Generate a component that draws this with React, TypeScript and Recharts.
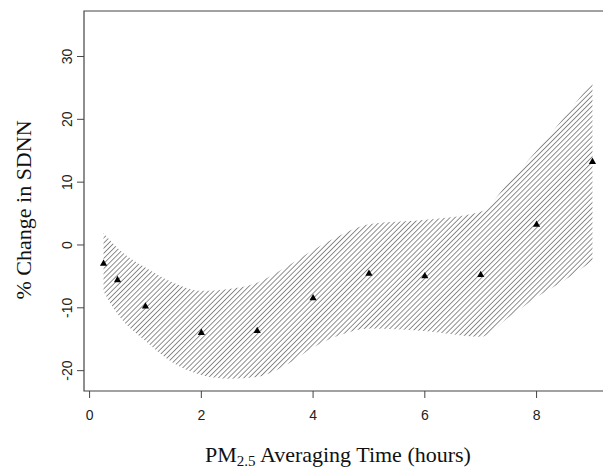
import React from "react"
import {
  Area,
  ComposedChart,
  ReferenceArea,
  Scatter,
  XAxis,
  YAxis,
} from "recharts"

// averaging times (hours) of the point estimates
const hours = [0.25, 0.5, 1, 2, 3, 4, 5, 6, 7, 8, 9]
const pctChange = [-2.9, -5.5, -9.7, -13.9, -13.6, -8.4, -4.5, -4.9, -4.7, 3.3, 13.3]

// confidence band
const bandHours = [0.25, 0.5, 1, 1.5, 2, 2.5, 3, 3.5, 4, 4.5, 5, 6, 7, 7.5, 8, 8.5, 9]
const bandUpper = [1.9, -0.5, -3.6, -6.0, -7.3, -7.0, -6.0, -3.6, -0.8, 1.6, 3.3, 4.0, 5.3, 10.0, 15.0, 20.4, 26.0]
const bandLower = [-7.4, -11.0, -15.3, -18.8, -20.7, -21.3, -21.0, -19.2, -16.3, -14.3, -13.3, -13.7, -14.6, -11.5, -8.3, -5.6, -2.5]

const xTicks = [0, 2, 4, 6, 8]
const yTicks = [-20, -10, 0, 10, 20, 30]

const X_DOMAIN: [number, number] = [-0.1, 9.35]
const Y_DOMAIN: [number, number] = [-23.24, 37.24]

const pointData = hours.map((h, i) => ({ h, v: pctChange[i] }))
const bandData = bandHours.map((h, i) => ({ h, range: [bandLower[i], bandUpper[i]] }))

const tickFont = { fontFamily: "'Liberation Sans', Arial, sans-serif", fontSize: 14, fill: "#222" }
const titleFont = "'Liberation Serif', 'Times New Roman', serif"

function Triangle(props: any) {
  const { cx, cy } = props
  if (cx == null || cy == null) return null
  return (
    <polygon
      points={`${cx - 3.6},${cy + 2.6} ${cx + 3.6},${cy + 2.6} ${cx},${cy - 3.8}`}
      fill="#000"
    />
  )
}

function RotatedTick(props: any) {
  const { x, y, payload } = props
  return (
    <text
      x={x}
      y={y}
      transform={`rotate(-90, ${x}, ${y})`}
      textAnchor="middle"
      {...tickFont}
    >
      {payload.value}
    </text>
  )
}

function XTitle() {
  return (
    <text x={338} y={462} textAnchor="middle" fontFamily={titleFont} fontSize={22} fill="#111">
      PM
      <tspan fontSize={15} dy={4}>2.5</tspan>
      <tspan dy={-4}> Averaging Time (hours)</tspan>
    </text>
  )
}

function YTitle() {
  return (
    <text
      x={31}
      y={210}
      transform="rotate(-90, 31, 210)"
      textAnchor="middle"
      fontFamily={titleFont}
      fontSize={22}
      fill="#111"
    >
      % Change in SDNN
    </text>
  )
}

export default function App() {
  return (
    <div
      style={{
        position: "fixed",
        left: 0,
        top: 0,
        width: 603,
        height: 471,
        overflow: "hidden",
        background: "#fff",
      }}
    >
      <ComposedChart width={640} height={471} margin={{ top: 11, right: 28, bottom: 0, left: 0 }}>
        <defs>
          <pattern
            id="hatch"
            width="3.6"
            height="3.6"
            patternUnits="userSpaceOnUse"
            patternTransform="rotate(45)"
          >
            <line x1="0" y1="0" x2="0" y2="3.6" stroke="#333" strokeWidth="1.1" />
          </pattern>
        </defs>
        <XAxis
          dataKey="h"
          type="number"
          domain={X_DOMAIN}
          ticks={xTicks}
          allowDataOverflow
          height={80}
          axisLine={false}
          tickLine={{ stroke: "#444" }}
          tickSize={7}
          tickMargin={12}
          tick={tickFont}
          label={<XTitle />}
        />
        <YAxis
          type="number"
          domain={Y_DOMAIN}
          ticks={yTicks}
          allowDataOverflow
          width={84}
          axisLine={false}
          tickLine={{ stroke: "#444" }}
          tickSize={7}
          tickMargin={5}
          tick={<RotatedTick />}
          label={<YTitle />}
        />
        <Area
          data={bandData}
          dataKey="range"
          type="monotone"
          stroke="none"
          fill="url(#hatch)"
          fillOpacity={1}
          dot={false}
          activeDot={false}
          isAnimationActive={false}
        />
        <Scatter data={pointData} dataKey="v" shape={<Triangle />} isAnimationActive={false} />
        <ReferenceArea
          x1={X_DOMAIN[0]}
          x2={X_DOMAIN[1]}
          y1={Y_DOMAIN[0]}
          y2={Y_DOMAIN[1]}
          fill="none"
          stroke="#444"
          strokeWidth={1.2}
          ifOverflow="visible"
        />
      </ComposedChart>
    </div>
  )
}
